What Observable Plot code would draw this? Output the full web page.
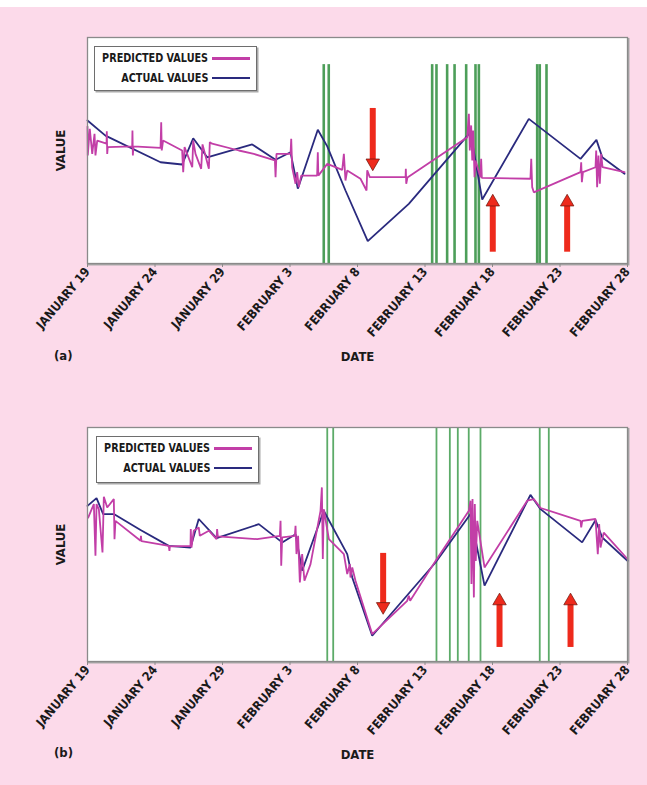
<!DOCTYPE html>
<html>
<head>
<meta charset="utf-8">
<script src="https://cdn.jsdelivr.net/npm/d3@7"></script>
<script src="https://cdn.jsdelivr.net/npm/@observablehq/plot@0.6"></script>
<style>
  html, body { margin: 0; padding: 0; }
  body { width: 647px; height: 785px; background: #fcdaea; position: relative; overflow: hidden;
         font-family: "Liberation Sans Narrow", "DejaVu Sans Condensed", sans-serif; font-weight: bold; }
  #topstrip { position: absolute; left: 0; top: 0; width: 647px; height: 7px; background: #fff; }
  .panel { position: absolute; left: 0; }
  .legend { position: absolute; background: #fff; border: 1.5px solid #6e6e6e; box-shadow: 1.5px 1.5px 0 #aaa; }
  .lrow { position: absolute; left: 0; height: 15px; font-size: 13px; line-height: 15px; color: #1a1a1a; }
  .lrow .lab { position: absolute; right: 0; top: 0; white-space: nowrap; transform-origin: right center; display: inline-block; }
  .swatch { position: absolute; height: 2.5px; width: 38px; }
  .tag { position: absolute; font-size: 13px; color: #1a1a1a; }
</style>
</head>
<body>
<div id="topstrip"></div>
<div id="a" class="panel" style="top:0"></div>
<div id="b" class="panel" style="top:390px"></div>
<script>
// ---------- DATA ----------
const startDate = Date.UTC(2004, 0, 19);
const tickDays = [0, 5, 10, 15, 20, 25, 30, 35, 40];
const tickLabels = ["JANUARY 19", "JANUARY 24", "JANUARY 29", "FEBRUARY 3", "FEBRUARY 8",
                    "FEBRUARY 13", "FEBRUARY 18", "FEBRUARY 23", "FEBRUARY 28"];
const seriesNames = ["PREDICTED VALUES", "ACTUAL VALUES"];

// panel (a) — days since January 19, values on an arbitrary 0–100 scale
const actualA_day = [0, 1.33, 5.41, 7.01, 7.83, 8.87, 12.2, 13.93, 15.04, 15.58, 17.06, 17.76, 19.11, 20.76, 23.8, 28.37, 29.24, 32.69, 36.52, 37.7, 38.13, 39.78];
const actualA_val = [63.3, 56.6, 44.8, 43.8, 55.4, 47.0, 52.7, 45.9, 49.2, 33.1, 59.2, 51.8, 32.3, 9.9, 26.4, 58.1, 28.3, 64.0, 46.3, 54.7, 47.0, 39.7];
const predA_day = [0, 0.02, 0.17, 0.35, 0.52, 0.59, 0.72, 1.41, 1.43, 1.46, 1.5, 3.31, 3.33, 3.36, 3.4, 5.41, 5.46, 5.5, 5.6, 7.01, 7.09, 7.19, 7.76, 7.83, 8.0, 8.42, 8.52, 8.99, 9.06, 9.23, 11.21, 12.32, 13.88, 13.93, 14.0, 15.04, 15.09, 15.16, 15.41, 15.53, 15.65, 15.83, 17.01, 17.06, 17.1, 17.76, 18.87, 18.99, 19.11, 19.24, 20.22, 20.67, 20.72, 20.91, 23.56, 23.58, 23.61, 23.7, 28.13, 28.25, 28.32, 28.42, 28.5, 28.57, 28.67, 28.74, 29.11, 29.16, 29.21, 32.81, 32.87, 32.94, 33.06, 36.52, 36.57, 36.62, 36.7, 37.63, 37.68, 37.75, 37.85, 37.95, 38.05, 38.15, 39.78];
const predA_val = [60.6, 47.8, 59.6, 48.5, 57.4, 47.8, 54.4, 53.0, 58.5, 48.5, 51.5, 51.8, 58.8, 47.8, 51.8, 51.2, 62.5, 50.0, 54.4, 50.0, 40.4, 51.5, 42.6, 54.4, 48.5, 41.9, 52.7, 41.9, 53.7, 53.0, 50.0, 48.5, 45.6, 38.2, 48.5, 48.5, 55.2, 42.6, 35.3, 40.4, 33.8, 38.9, 38.9, 49.2, 38.9, 44.1, 41.4, 48.5, 36.7, 41.2, 37.5, 32.3, 41.2, 38.2, 38.2, 41.9, 35.3, 38.0, 55.9, 66.2, 50.0, 61.1, 45.6, 58.8, 38.2, 45.6, 38.2, 46.3, 37.9, 37.5, 46.3, 33.8, 31.5, 40.4, 44.8, 36.0, 40.4, 42.6, 50.0, 33.8, 47.8, 35.3, 48.5, 42.6, 40.4];
const greenA_day = [17.5, 17.87, 25.53, 25.85, 26.64, 27.19, 28.05, 28.74, 28.99, 33.31, 33.5, 34.0];
const greenA_top = 88;
const arrowA_day = [21.13, 30.02, 35.53];
const arrowA_tail = [68.6, 5.0, 5.0];
const arrowA_tip = [41.2, 30.5, 30.5];

// panel (b)
const actualB_day = [0, 0.67, 1.16, 1.95, 3.93, 6.02, 7.63, 8.24, 9.56, 12.69, 14.42, 15.41, 15.9, 17.5, 19.24, 19.61, 21.09, 25.78, 28.37, 29.41, 32.81, 33.56, 36.64, 37.63, 38.13, 40];
const actualB_val = [66.5, 69.8, 63.0, 63.0, 56.2, 49.4, 48.7, 60.9, 52.7, 58.7, 50.9, 54.4, 38.8, 64.4, 45.9, 35.9, 11.0, 42.3, 63.0, 32.4, 71.2, 65.1, 50.9, 60.4, 53.0, 43.0];
const predB_day = [0.05, 0.47, 0.59, 0.67, 0.84, 1.11, 1.21, 1.46, 1.95, 2.0, 2.07, 3.93, 3.96, 4.0, 6.02, 6.07, 6.1, 7.63, 7.65, 7.7, 7.87, 8.24, 8.32, 8.99, 9.56, 9.6, 9.65, 12.57, 14.25, 14.3, 14.35, 14.42, 15.36, 15.41, 15.48, 15.6, 15.73, 15.9, 16.07, 16.52, 17.26, 17.36, 17.43, 17.5, 17.88, 18.99, 19.24, 19.43, 19.48, 19.61, 19.85, 21.09, 23.68, 23.8, 23.9, 25.78, 28.25, 28.37, 28.44, 28.52, 28.62, 28.69, 28.76, 28.87, 29.41, 32.57, 33.06, 33.56, 36.52, 36.57, 36.65, 37.63, 37.8, 37.9, 38.0, 38.24, 40];
const predB_val = [61.5, 67.3, 45.2, 67.3, 65.1, 46.6, 70.4, 65.8, 69.4, 52.3, 60.1, 51.6, 53.7, 51.4, 49.4, 47.3, 49.2, 49.4, 56.6, 48.7, 55.9, 57.3, 53.7, 55.9, 52.3, 56.6, 53.5, 52.3, 53.7, 60.1, 40.9, 53.0, 53.7, 58.0, 45.9, 53.7, 33.8, 45.9, 34.5, 41.6, 64.4, 74.4, 43.8, 65.1, 52.3, 45.9, 37.4, 41.6, 35.9, 40.2, 34.5, 11.7, 25.9, 28.1, 26.0, 43.0, 64.4, 68.7, 33.1, 69.4, 27.4, 67.3, 43.0, 60.1, 40.2, 68.7, 69.4, 65.6, 60.1, 57.3, 60.1, 60.9, 45.9, 58.7, 48.7, 55.1, 43.8];
const greenB_day = [17.76, 18.2, 25.85, 26.84, 27.43, 28.24, 29.11, 33.5, 34.17];
const greenB_top = 100;
const arrowB_day = [21.9, 30.52, 35.78];
const arrowB_tail = [46.2, 6.0, 6.0];
const arrowB_tip = [20.3, 29.1, 29.1];

// ---------- HELPERS ----------
const toDate = d => new Date(startDate + d * 864e5);
const pts = (days, vals) => days.map((d, i) => ({date: toDate(d), v: vals[i]}));
const tickDates = tickDays.map(toDate);
const tickFmt = t => tickLabels[tickDays.findIndex(d => Math.abs(toDate(d) - t) < 1000)];
const arrows = (days, tails, tips) => days.map((d, i) => ({date: toDate(d), tail: tails[i], tip: tips[i], up: tips[i] > tails[i]}));

const C_PRED = "#c23ea7", C_ACT = "#2a2a7e", C_RED = "#ee2a1c";
const FONT = "'Liberation Sans Narrow', 'DejaVu Sans Condensed', sans-serif";

const downTri = {draw(ctx, size) { const y = Math.sqrt(size / (3 * Math.sqrt(3)));
  ctx.moveTo(0, 2 * y); ctx.lineTo(-Math.sqrt(3) * y, -y); ctx.lineTo(Math.sqrt(3) * y, -y); ctx.closePath(); }};

function panel({height, marginTop, marginBottom, actual, pred, green, greenTop, greenWidth, greenColor, arr}) {
  const ups = arr.filter(a => a.up), downs = arr.filter(a => !a.up);
  return Plot.plot({
    width: 647, height, marginLeft: 87, marginRight: 20, marginTop, marginBottom,
    style: {background: "transparent", fontFamily: FONT, fontWeight: "bold", color: "#1a1a1a"},
    x: {type: "utc", domain: [toDate(0), toDate(40)]},
    y: {domain: [0, 100], axis: null},
    marks: [
      Plot.frame({stroke: "#a5a5a5", strokeWidth: 1.5, dx: 1.2, dy: 1.2}),
      Plot.frame({fill: "white", stroke: "none"}),
      Plot.ruleX(green.map(toDate), {y1: 0, y2: greenTop, stroke: greenColor, strokeWidth: greenWidth, strokeOpacity: 0.85}),
      Plot.line(actual, {x: "date", y: "v", stroke: C_ACT, strokeWidth: 1.8, strokeLinejoin: "miter"}),
      Plot.line(pred, {x: "date", y: "v", stroke: C_PRED, strokeWidth: 1.8, strokeLinejoin: "miter"}),
      // shafts: inset is applied to y1 (insetTop) / y2 (insetBottom), so y1/y2 are chosen so the tip end is shortened
      Plot.ruleX(ups, {x: "date", y1: "tip", y2: "tail", stroke: C_RED, strokeWidth: 6, insetTop: 9}),
      Plot.ruleX(downs, {x: "date", y1: "tail", y2: "tip", stroke: C_RED, strokeWidth: 6, insetBottom: 9}),
      Plot.dot(ups, {x: "date", y: "tip", symbol: "triangle", r: 5, fill: C_RED, stroke: "#6a1208", strokeWidth: 0.7, dy: 7.5}),
      Plot.dot(downs, {x: "date", y: "tip", symbol: downTri, r: 5, fill: C_RED, stroke: "#6a1208", strokeWidth: 0.7, dy: -7.5}),
      Plot.frame({stroke: "#8a8a8a", strokeWidth: 1.3}),
      Plot.axisX({ticks: tickDates, tickFormat: tickFmt, tickRotate: -50, tickSize: 4, tickPadding: 2,
                  stroke: "#8a8a8a", fill: "#1a1a1a", fontSize: 12.5, fontFamily: FONT, fontWeight: "bold", label: null}),
      Plot.text(["DATE"], {frameAnchor: "bottom", dy: 97, fontSize: 13, fontFamily: FONT, fontWeight: "bold", fill: "#1a1a1a"}),
      Plot.text(["VALUE"], {frameAnchor: "left", textAnchor: "middle", rotate: -90, dx: -27, fontSize: 13, fontFamily: FONT, fontWeight: "bold", fill: "#1a1a1a"})
    ]
  });
}

document.getElementById("a").appendChild(panel({
  height: 390, marginTop: 37, marginBottom: 127,
  actual: pts(actualA_day, actualA_val), pred: pts(predA_day, predA_val),
  green: greenA_day, greenTop: greenA_top, greenWidth: 2.6, greenColor: "#2e8d3c",
  arr: arrows(arrowA_day, arrowA_tail, arrowA_tip)
}));
document.getElementById("b").appendChild(panel({
  height: 395, marginTop: 37, marginBottom: 124,
  actual: pts(actualB_day, actualB_val), pred: pts(predB_day, predB_val),
  green: greenB_day, greenTop: greenB_top, greenWidth: 1.8, greenColor: "#3f9c4d",
  arr: arrows(arrowB_day, arrowB_tail, arrowB_tip)
}));

// legends and panel tags (HTML overlays)
function legend(left, top, width, height, rows) {
  const box = document.createElement("div");
  box.className = "legend";
  Object.assign(box.style, {left: left + "px", top: top + "px", width: width + "px", height: height + "px"});
  document.body.appendChild(box);
  const labs = [];
  rows.forEach(([name, color], i) => {
    const r = document.createElement("div");
    r.className = "lrow";
    Object.assign(r.style, {top: (3 + i * 19.5) + "px", width: "113px"});
    const s = document.createElement("span"); s.className = "lab"; s.textContent = name; r.appendChild(s);
    box.appendChild(r);
    labs.push(s);
    const sw = document.createElement("div"); sw.className = "swatch";
    Object.assign(sw.style, {left: "117px", top: (10 + i * 19.5) + "px", background: color});
    box.appendChild(sw);
  });
  // condense the labels so "PREDICTED VALUES" spans about 106px, as in the original
  const k = Math.min(1, 106 / labs[0].getBoundingClientRect().width);
  labs.forEach(s => s.style.transform = `scaleX(${k})`);
}
legend(94, 46, 161, 43, [[seriesNames[0], C_PRED], [seriesNames[1], C_ACT]]);
legend(96, 436, 161, 45, [[seriesNames[0], C_PRED], [seriesNames[1], C_ACT]]);

function tag(text, left, top) {
  const t = document.createElement("div"); t.className = "tag"; t.textContent = text;
  Object.assign(t.style, {left: left + "px", top: top + "px"}); document.body.appendChild(t);
}
tag("(a)", 54, 348);
tag("(b)", 54, 745);
</script>
</body>
</html>
